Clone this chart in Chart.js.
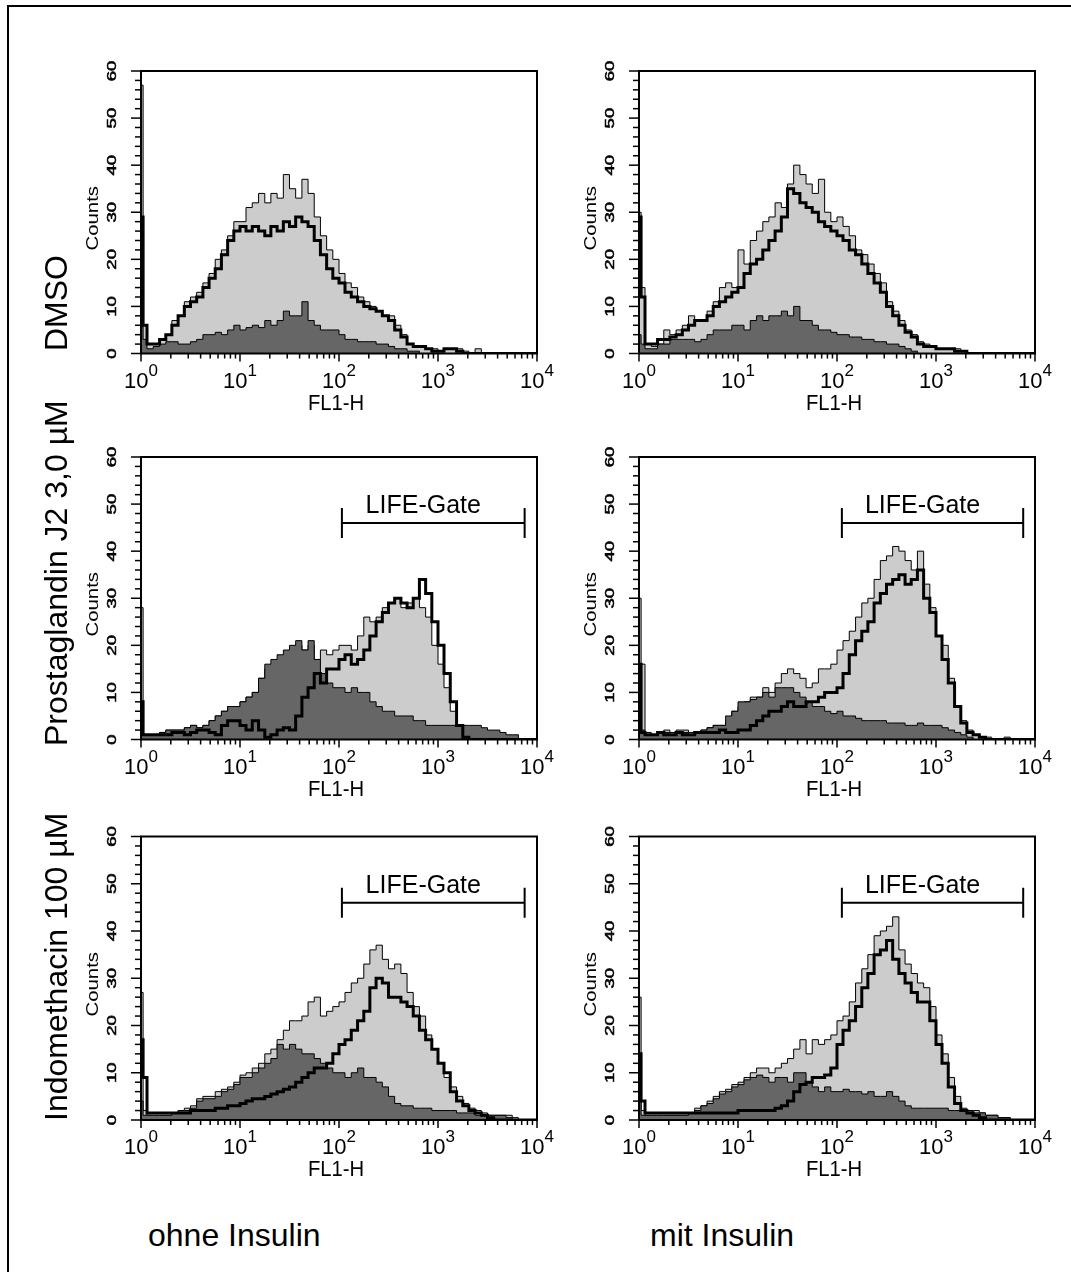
<!DOCTYPE html>
<html lang="de">
<head>
<meta charset="UTF-8">
<title>FL1-H Histogramme</title>
<style>
  html, body { margin: 0; padding: 0; background: #fff; overflow: hidden; }
  body { width: 1071px; height: 1272px; position: relative; font-family: "Liberation Sans", Arial, sans-serif; color: #000; }
  #frame { position: absolute; left: 7px; top: 5px; width: 1120px; height: 1320px; border-left: 2px solid #000; border-top: 2px solid #000; }
  canvas { position: absolute; }
  .row-label { position: absolute; font-size: 32px; line-height: 32px; white-space: nowrap; transform-origin: 0 0; transform: rotate(-90deg); }
  .col-label { position: absolute; font-size: 32px; line-height: 32px; white-space: nowrap; }
</style>
</head>
<body>
<div id="frame"></div>

<canvas id="c1" width="506" height="380"></canvas>
<canvas id="c2" width="506" height="380"></canvas>
<canvas id="c3" width="506" height="380"></canvas>
<canvas id="c4" width="506" height="380"></canvas>
<canvas id="c5" width="506" height="380"></canvas>
<canvas id="c6" width="506" height="380"></canvas>

<div class="row-label" style="left:40px; top:351px;">DMSO</div>
<div class="row-label" style="left:40px; top:746px;">Prostaglandin J2 3,0 µM</div>
<div class="row-label" style="left:40px; top:1121px;">Indomethacin 100 µM</div>
<div class="col-label" style="left:148px; top:1219px;">ohne Insulin</div>
<div class="col-label" style="left:650px; top:1219px;">mit Insulin</div>

<script src="https://cdn.jsdelivr.net/npm/chart.js"></script>
<script>
// FL1-H Kanäle (log, 16 pro Dekade; erster Kanal = schmaler Peak bei 10^0)
const fl1 = [1, 1.05, 1.15, 1.33, 1.54, 1.78, 2.05, 2.37, 2.74, 3.16, 3.65, 4.22, 4.87, 5.62, 6.49, 7.5, 8.66,
  10, 11.5, 13.3, 15.4, 17.8, 20.5, 23.7, 27.4, 31.6, 36.5, 42.2, 48.7, 56.2, 64.9, 75, 86.6,
  100, 115, 133, 154, 178, 205, 237, 274, 316, 365, 422, 487, 562, 649, 750, 866,
  1000, 1150, 1330, 1540, 1780, 2050, 2370, 2740, 3160, 3650, 4220, 4870, 5620, 6490, 7500, 8660, 10000];

// Achsen
const yTickLabels = ['0', '10', '20', '30', '40', '50', '60'];
const yMinorStep = 2;
const xDecades = [1, 10, 100, 1000, 10000];
const xExponents = ['0', '1', '2', '3', '4'];
const gateEdges = [[107, 7500], [112, 7600]];
const gateLevel = 46;

// DMSO ohne Insulin
const dmsoOhneLight = [57, 6,
  2, 2, 3, 4, 7, 8, 11, 12, 13, 15, 17, 20, 22, 25, 28, 28,
  31, 32, 34, 32, 34, 33, 38, 35, 33, 37, 34, 29, 25, 22, 20, 17,
  15, 14, 12, 11, 10, 9, 8, 8, 6, 4, 2, 1.5, 1.5, 1, 1, 0.5,
  1, 1, 1, 0.5, 0, 1, 0, 0, 0, 0, 0, 0, 0, 0, 0, 0];
const dmsoOhneDark = [6, 3,
  1, 1.5, 2, 2.5, 2.5, 2, 2, 2.5, 3, 4, 4, 4.5, 4, 5, 6, 5,
  5.5, 6, 5.5, 7, 6, 7, 9, 8, 8, 11, 7, 6, 5, 5, 5, 4,
  3, 3, 2.5, 2.5, 2.5, 2, 2, 1.5, 1, 1, 0.5, 0.5, 0, 0, 0, 0,
  0, 0, 0, 0, 0, 0, 0, 0, 0, 0, 0, 0, 0, 0, 0, 0];
const dmsoOhneBold = [29, 6,
  2, 2, 3, 4, 6, 8, 10, 11, 12, 14, 16, 18, 21, 24, 26, 27,
  26, 27, 26, 25, 27, 26, 28, 27, 29, 28, 27, 24, 21, 18, 16, 15,
  13, 12, 11, 10, 9.5, 9, 8, 7, 5, 3.5, 2, 1.5, 1.5, 1, 0.5, 0.5,
  1, 1, 0.5, 0, 0, 0, 0, 0, 0, 0, 0, 0, 0, 0, 0, 0];

// DMSO mit Insulin
const dmsoMitLight = [30, 14,
  2, 1.5, 2, 5, 4, 5, 6, 8, 7, 7, 9, 11, 14, 15, 14, 22,
  19, 24, 26, 28, 29, 32, 31, 36, 40, 38, 36, 34, 37, 30, 28, 29,
  27, 25, 22, 21, 19, 17, 15, 11, 9, 7, 5, 4, 2.5, 2, 1.5, 1,
  1, 1, 1, 0.5, 0, 0, 0, 0, 0, 0, 0, 0, 0, 0, 0, 0];
const dmsoMitDark = [4, 2,
  1, 1, 2, 2, 3, 3, 3, 3, 2.5, 3, 4, 5, 5, 5, 6, 6,
  5, 7, 8, 7, 8, 8, 9, 8, 10, 7, 7, 6, 5, 5, 4.5, 4,
  4, 3.5, 3.5, 3, 3, 2.5, 2.5, 2, 2, 1.5, 1, 0.5, 0, 0, 0, 0,
  0, 0, 0, 0, 0, 0, 0, 0, 0, 0, 0, 0, 0, 0, 0, 0];
const dmsoMitBold = [29, 12,
  2, 2, 3, 3, 3.5, 4, 5, 6, 7, 7, 8, 10, 11, 12, 13, 14,
  17, 19, 20, 22, 24, 26, 29, 35, 34, 32, 31, 30, 28, 27, 26, 25,
  24, 22, 21, 19, 17, 15, 13, 10, 8, 6, 4.5, 3.5, 2, 1.5, 1.5, 1,
  1, 1, 0.5, 0.5, 0, 0, 0, 0, 0, 0, 0, 0, 0, 0, 0, 0];

// Prostaglandin J2 ohne Insulin
const pgjOhneLight = [28, 1,
  1, 1, 1.5, 2, 2, 2, 2.5, 3, 2.5, 3, 4, 5, 6, 7, 7, 8,
  9, 10, 13, 15, 16, 17, 18, 19, 20, 19, 20, 17, 19, 18, 19, 20,
  20, 19, 22, 26, 25, 26, 28, 29, 30, 28, 29, 30, 28, 26, 20, 16,
  11, 6, 3, 1.5, 0.5, 0, 0, 0, 0, 0, 0, 0, 0, 0, 0, 0];
const pgjOhneDark = [5, 1,
  1, 1, 1.5, 2, 2, 2, 2.5, 3, 2.5, 3, 4, 5, 6, 7, 7, 8,
  9, 10, 13, 16, 17, 18, 19, 20, 21, 19, 21, 17, 14, 12, 11, 11,
  10, 11, 10, 10, 8, 7, 6, 6, 5, 5, 5, 4, 4, 3, 3, 3,
  3, 3, 3, 3, 3, 3, 2.5, 2, 2, 1.5, 1, 1, 0, 0, 0, 0];
const pgjOhneBold = [8, 1,
  1, 1, 1, 1, 1.5, 1.5, 1, 1.5, 2, 2, 1.5, 1, 3, 4, 4, 3,
  2, 4, 2, 0.5, 1, 2, 2.5, 2, 5, 9, 11, 14, 12, 15, 15, 17,
  18, 16, 17, 19, 22, 25, 27, 29, 30, 29, 28, 30, 34, 31, 25, 20,
  14, 8, 3, 0.5, 0, 0, 0, 0, 0, 0, 0, 0, 0, 0, 0, 0];

// Prostaglandin J2 mit Insulin
const pgjMitLight = [30, 16,
  1.5, 1, 1.5, 2, 1.5, 2, 2, 1.5, 1.5, 2, 2.5, 3, 3, 4, 6, 7,
  8, 9, 9, 11, 10, 12, 14, 15, 14, 13, 11, 12, 15, 15, 16, 19,
  21, 23, 26, 29, 30, 34, 38, 39, 41, 40, 38, 36, 40, 33, 28, 22,
  20, 13, 7, 4, 2, 1, 0.5, 0.5, 0, 0, 0.5, 0, 0, 0, 0, 0];
const pgjMitDark = [4, 2,
  1, 1, 1.5, 1.5, 1, 1.5, 1.5, 1, 1.5, 2, 2.5, 3, 3, 5, 6, 8,
  8, 8.5, 9, 10, 9, 11, 11, 11, 10, 9, 8, 7, 7, 6, 5.5, 6,
  5, 5, 4.5, 4, 4, 4, 4, 3.5, 3.5, 3.5, 3, 3, 3.5, 3, 3, 3,
  2.5, 2, 1.5, 1, 0.5, 0, 0, 0, 0, 0, 0, 0, 0, 0, 0, 0];
const pgjMitBold = [16, 1.5,
  1, 1, 1.5, 1, 1, 1.5, 1, 1, 1.5, 1.5, 1.5, 1.5, 2, 1.5, 1.5, 2,
  2, 3, 4, 5, 6, 6, 7, 8, 7, 7, 8, 8, 9, 10, 10, 11,
  14, 18, 21, 23, 25, 29, 31, 33, 34, 35, 33, 34, 36, 30, 27, 22,
  17, 12, 7, 3.5, 1.5, 1, 0.5, 0, 0, 0, 0, 0, 0, 0, 0, 0];

// Indomethacin ohne Insulin
const indoOhneLight = [27, 2,
  1, 1, 1, 1, 1.5, 2, 2.5, 3, 4.5, 5, 5, 6, 6.5, 7, 8, 9.5,
  10, 11, 12, 14, 15, 17, 19, 21, 21, 22, 25, 26, 22, 23, 24, 25,
  27, 29, 30, 33, 36, 37, 34, 32, 33, 31, 27, 24, 22, 18, 15, 12,
  9, 7, 5, 3.5, 2.5, 2, 1.5, 1, 1, 1, 1, 0.5, 0, 0, 0, 0];
const indoOhneDark = [4, 1,
  1, 1, 1, 1, 1.5, 2, 2, 2.5, 4, 4.5, 4.5, 5, 6, 6.5, 7.5, 9,
  9, 10, 11, 12, 13, 16, 15, 16, 15, 14, 14, 13, 12, 11, 10, 10,
  9, 10, 11, 9, 9, 8, 7, 5, 3.5, 3, 3, 2.5, 2.5, 2.5, 2, 2,
  2, 2, 1.5, 1.5, 1.5, 1, 1, 1, 1, 1, 0.5, 0, 0, 0, 0, 0];
const indoOhneBold = [17, 9,
  1.5, 1.5, 1.5, 1.5, 1.5, 1.5, 1.5, 2, 2, 2, 2, 2.5, 2.5, 3, 3, 3.5,
  4, 4.5, 4.5, 5, 5.5, 6, 6.5, 7, 8, 9, 10, 11, 11, 12, 14, 16,
  17, 19, 21, 23, 28, 30, 29, 26, 26, 25, 24, 22, 19, 17, 15, 12,
  10, 6, 4, 3, 2, 1.5, 1, 0.5, 0, 0, 0, 0, 0, 0, 0, 0];

// Indomethacin mit Insulin
const indoMitLight = [26, 2,
  1, 1, 1, 1, 1, 1, 1, 1.5, 2.5, 3, 4, 5, 6, 6.5, 7.5, 8,
  9, 10, 11, 11, 10, 11, 12, 13, 15, 17, 14, 17, 16, 17, 18, 21,
  22, 25, 29, 32, 35, 39, 40, 41, 43, 36, 33, 31, 29, 28, 24, 18,
  14, 9, 5, 2.5, 2, 2, 1.5, 1, 1, 0.5, 0.5, 0, 0, 0, 0, 0];
const indoMitDark = [4, 1,
  1, 1, 1, 1, 1, 1, 1, 1.5, 2, 3, 3.5, 4.5, 5.5, 6, 7, 7.5,
  8.5, 9, 9.5, 9, 8, 9, 9, 8, 10, 10, 8, 7, 6, 7, 6, 6,
  6.5, 6, 6, 5.5, 6, 5, 5, 6, 5, 4, 3, 2.5, 2.5, 2.5, 2.5, 2.5,
  2.5, 2, 2, 2, 2, 1.5, 1.5, 1, 1, 0.5, 0.5, 0, 0, 0, 0, 0];
const indoMitBold = [14, 4,
  1.5, 1.5, 1.5, 1.5, 1.5, 1.5, 1.5, 1.5, 1.5, 1.5, 1.5, 1.5, 1.5, 1.5, 1.5, 2,
  2, 2, 2, 2, 2, 2.5, 3, 4, 6, 7.5, 8, 9, 9, 9.5, 11, 16,
  19, 21, 24, 28, 31, 35, 36, 38, 34, 31, 29, 27, 25, 25, 21, 16,
  12, 7, 3.5, 2, 1.5, 1, 0.5, 0, 0, 0, 0, 0, 0, 0, 0, 0];

// Lage der Plotflächen auf der Seite
const colLeft = [141, 639];
const plotWidth = 396;
const rowTop = [71, 457, 836.5];
const rowBottom = [353.5, 739.5, 1120];

const FONT = '"Liberation Sans", Arial, sans-serif';

function toPoints(vals) {
  return fl1.map((x, i) => ({ x: x, y: vals[i] }));
}

// Rahmen, Ticks und Beschriftungen im Stil von CellQuest
const facsAxes = {
  id: 'facsAxes',
  afterDatasetsDraw(chart, args, opts) {
    const ctx = chart.ctx;
    const a = chart.chartArea;
    const xs = chart.scales.x;
    const ys = chart.scales.y;
    ctx.save();
    ctx.fillStyle = '#000';
    ctx.strokeStyle = '#000';

    ctx.lineWidth = 2;
    ctx.strokeRect(a.left, a.top, a.right - a.left, a.bottom - a.top);

    // y-Ticks
    ctx.lineWidth = 1.5;
    const yMax = Number(yTickLabels[yTickLabels.length - 1]);
    const yMajor = Number(yTickLabels[1]);
    for (let v = 0; v <= yMax; v += yMinorStep) {
      const py = ys.getPixelForValue(v);
      const len = v % yMajor === 0 ? 10 : 6;
      ctx.beginPath();
      ctx.moveTo(a.left - len, py);
      ctx.lineTo(a.left, py);
      ctx.stroke();
    }
    ctx.font = '12px ' + FONT;
    ctx.textAlign = 'center';
    ctx.textBaseline = 'alphabetic';
    ctx.lineWidth = 0.5;
    yTickLabels.forEach(lbl => {
      const py = ys.getPixelForValue(Number(lbl));
      ctx.save();
      ctx.translate(a.left - 25, py);
      ctx.rotate(-Math.PI / 2);
      ctx.scale(1.55, 1);
      ctx.fillText(lbl, 0, 0);
      ctx.strokeText(lbl, 0, 0);
      ctx.restore();
    });
    ctx.save();
    ctx.font = '17px ' + FONT;
    ctx.translate(a.left - 43, (a.top + a.bottom) / 2 + 6);
    ctx.rotate(-Math.PI / 2);
    ctx.scale(1.2, 1);
    ctx.fillText('Counts', 0, 0);
    ctx.restore();

    // x-Ticks (logarithmisch)
    ctx.lineWidth = 1.5;
    for (let d = 0; d < xDecades.length; d++) {
      const steps = d === xDecades.length - 1 ? 1 : 9;
      for (let m = 1; m <= steps; m++) {
        const px = xs.getPixelForValue(xDecades[d] * m);
        const len = m === 1 ? 8 : 5;
        ctx.beginPath();
        ctx.moveTo(px, a.bottom);
        ctx.lineTo(px, a.bottom + len);
        ctx.stroke();
      }
    }
    xDecades.forEach((dec, i) => {
      const px = xs.getPixelForValue(dec);
      ctx.font = '22px ' + FONT;
      const w1 = ctx.measureText('10').width;
      ctx.font = '17px ' + FONT;
      const w2 = ctx.measureText(xExponents[i]).width;
      const x0 = px - (w1 + w2) / 2;
      ctx.textAlign = 'left';
      ctx.font = '22px ' + FONT;
      ctx.fillText('10', x0, a.bottom + 34);
      ctx.font = '17px ' + FONT;
      ctx.fillText(xExponents[i], x0 + w1, a.bottom + 22);
    });
    ctx.save();
    ctx.font = '22px ' + FONT;
    ctx.textAlign = 'center';
    ctx.translate((a.left + a.right) / 2 - 3, a.bottom + 56);
    ctx.scale(0.92, 1);
    ctx.fillText('FL1-H', 0, 0);
    ctx.restore();

    // LIFE-Gate Marker
    if (opts.gate) {
      const gx1 = xs.getPixelForValue(opts.gate[0]);
      const gx2 = xs.getPixelForValue(opts.gate[1]);
      const gy = ys.getPixelForValue(gateLevel);
      ctx.lineWidth = 2;
      ctx.beginPath();
      ctx.moveTo(gx1, gy); ctx.lineTo(gx2, gy);
      ctx.moveTo(gx1, gy - 15); ctx.lineTo(gx1, gy + 15);
      ctx.moveTo(gx2, gy - 15); ctx.lineTo(gx2, gy + 15);
      ctx.stroke();
      ctx.font = '25px ' + FONT;
      ctx.textAlign = 'center';
      ctx.fillText('LIFE-Gate', (gx1 + gx2) / 2 - 10, gy - 10);
    }
    ctx.restore();
  }
};

const panels = [
  { id: 'c1', col: 0, row: 0, light: dmsoOhneLight, dark: dmsoOhneDark, bold: dmsoOhneBold, gate: null },
  { id: 'c2', col: 1, row: 0, light: dmsoMitLight, dark: dmsoMitDark, bold: dmsoMitBold, gate: null },
  { id: 'c3', col: 0, row: 1, light: pgjOhneLight, dark: pgjOhneDark, bold: pgjOhneBold, gate: gateEdges[0] },
  { id: 'c4', col: 1, row: 1, light: pgjMitLight, dark: pgjMitDark, bold: pgjMitBold, gate: gateEdges[1] },
  { id: 'c5', col: 0, row: 2, light: indoOhneLight, dark: indoOhneDark, bold: indoOhneBold, gate: gateEdges[0] },
  { id: 'c6', col: 1, row: 2, light: indoMitLight, dark: indoMitDark, bold: indoMitBold, gate: gateEdges[1] }
];

panels.forEach(p => {
  const canvas = document.getElementById(p.id);
  const cLeft = colLeft[p.col] - 80;
  const cTop = Math.floor(rowTop[p.row]) - 25;
  canvas.style.left = cLeft + 'px';
  canvas.style.top = cTop + 'px';
  const padLeft = colLeft[p.col] - cLeft;
  const padRight = canvas.width - padLeft - plotWidth;
  const padTop = rowTop[p.row] - cTop;
  const padBottom = canvas.height - (rowBottom[p.row] - cTop);

  new Chart(canvas.getContext('2d'), {
    type: 'line',
    data: {
      datasets: [
        { label: 'bold', data: toPoints(p.bold), borderColor: '#000', borderWidth: 3, fill: false,
          stepped: true, pointRadius: 0, order: 0 },
        { label: 'dark', data: toPoints(p.dark), borderColor: '#000', borderWidth: 1, backgroundColor: '#666666',
          fill: 'origin', stepped: true, pointRadius: 0, order: 1 },
        { label: 'light', data: toPoints(p.light), borderColor: '#000', borderWidth: 1, backgroundColor: '#cccccc',
          fill: 'origin', stepped: true, pointRadius: 0, order: 2 }
      ]
    },
    options: {
      responsive: false,
      animation: false,
      devicePixelRatio: 1,
      events: [],
      layout: { padding: { left: padLeft, right: padRight, top: padTop, bottom: padBottom } },
      plugins: {
        legend: { display: false },
        tooltip: { enabled: false },
        facsAxes: { gate: p.gate }
      },
      scales: {
        x: { type: 'logarithmic', min: 1, max: 10000, display: false },
        y: { type: 'linear', min: 0, max: 60, display: false }
      }
    },
    plugins: [facsAxes]
  });
});
</script>
</body>
</html>
